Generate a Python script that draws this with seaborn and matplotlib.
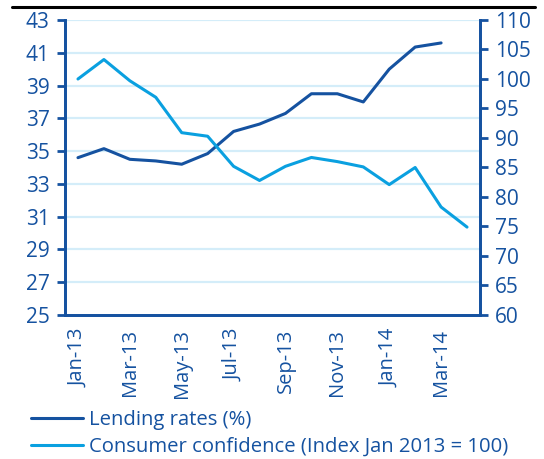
import matplotlib
matplotlib.use("Agg")
import matplotlib.pyplot as plt
from matplotlib.lines import Line2D
import seaborn as sns
import pandas as pd
import numpy as np

months = ["Jan-13", "Feb-13", "Mar-13", "Apr-13", "May-13", "Jun-13", "Jul-13", "Aug-13",
          "Sep-13", "Oct-13", "Nov-13", "Dec-13", "Jan-14", "Feb-14", "Mar-14", "Apr-14"]
lending_rates = [34.6, 35.15, 34.5, 34.4, 34.2, 34.85, 36.2, 36.65, 37.3, 38.5, 38.5, 38.0,
                 40.0, 41.35, 41.6, np.nan]
consumer_conf = [100.0, 103.3, 99.7, 96.9, 90.9, 90.3, 85.2, 82.8, 85.2, 86.7, 86.0, 85.1,
                 82.1, 85.0, 78.3, 74.9]
left_ticks = list(range(25, 44, 2))
right_ticks = list(range(60, 111, 5))

DARK = "#1552a0"
LIGHT = "#0aa0e0"
GRID = "#d4edf9"

sns.set_theme(style="white")
plt.rcParams["font.family"] = ["Open Sans", "DejaVu Sans"]

df = pd.DataFrame({"pos": np.arange(len(months)), "month": months,
                   "lending": lending_rates, "confidence": consumer_conf})

fig = plt.figure(figsize=(5.44, 4.59), dpi=100)
ax = fig.add_axes([65 / 544, 1 - 315 / 459, 415 / 544, 295 / 459])
ax2 = ax.twinx()

sns.lineplot(data=df, x="pos", y="lending", ax=ax, color=DARK, lw=2.2)
sns.lineplot(data=df, x="pos", y="confidence", ax=ax2, color=LIGHT, lw=2.2)

ax.set_xlim(-0.5, len(months) - 0.5)
ax.set_ylim(25, 43)
ax2.set_ylim(60, 110)
ax.set_yticks(left_ticks)
ax2.set_yticks(right_ticks)

for y in left_ticks[1:]:
    ax.axhline(y, color=GRID, lw=1.6, zorder=0)

ax.set_xticks(np.arange(-0.5, len(months), 2))
ax.set_xticklabels([])
ax.set_xticks(np.arange(0, len(months), 2), minor=True)
ax.set_xticklabels(months[::2], minor=True, rotation=90)
ax.tick_params(axis="x", which="major", length=6, width=2, color=DARK, direction="out")
ax.tick_params(axis="x", which="minor", length=0, pad=10, labelsize=14.5, labelcolor=DARK)
ax.tick_params(axis="y", length=6, width=2, color=DARK, labelsize=15, labelcolor=DARK,
               direction="out", left=True, pad=5)
ax2.tick_params(axis="y", length=6, width=2, color=DARK, labelsize=15, labelcolor=DARK,
                direction="out", right=True, pad=5)

for a in (ax, ax2):
    a.set_xlabel("")
    a.set_ylabel("")
    for side, sp in a.spines.items():
        if side == "top":
            sp.set_visible(False)
        else:
            sp.set_color(DARK)
            sp.set_linewidth(2)

handles = [Line2D([], [], color=DARK, lw=2.2), Line2D([], [], color=LIGHT, lw=2.2)]
fig.legend(handles, ["Lending rates (%)", "Consumer confidence (Index Jan 2013 = 100)"],
           loc="upper left", bbox_to_anchor=(31 / 544, 1 - 410 / 459), frameon=False,
           fontsize=14.6, labelcolor=DARK, handlelength=2.55, handletextpad=0.3,
           labelspacing=0.35, borderaxespad=0, borderpad=0)

fig.add_artist(Line2D([12 / 544, 535 / 544], [1 - 7 / 459, 1 - 7 / 459], color="black", lw=2.2))

fig.savefig("out.png", dpi=100)
